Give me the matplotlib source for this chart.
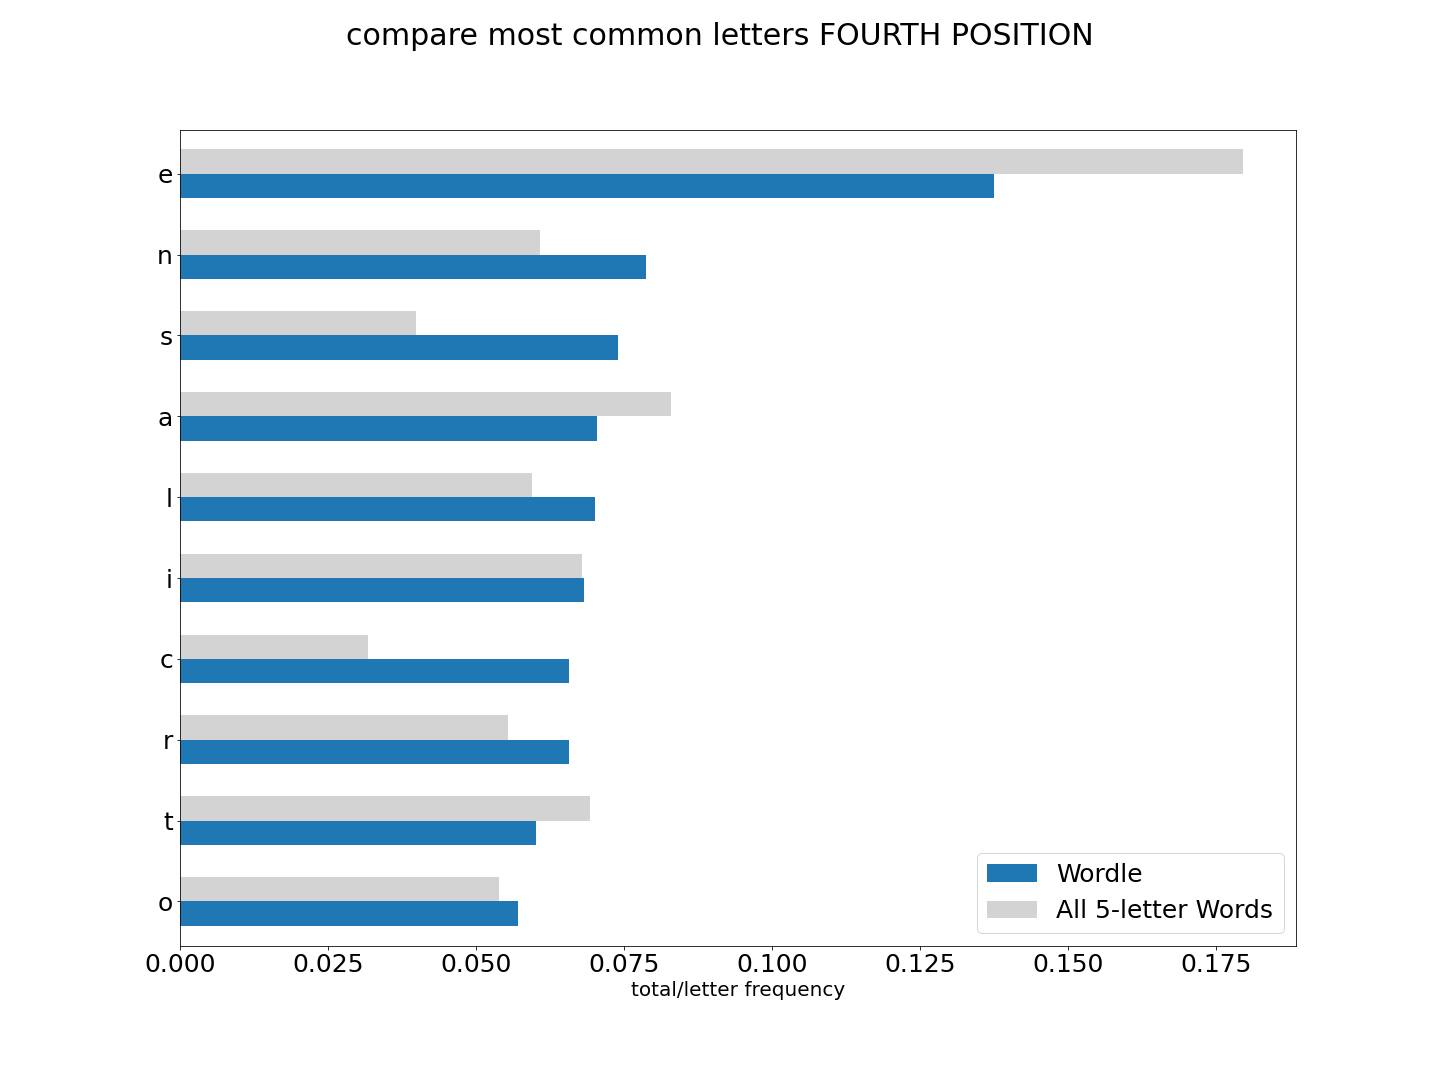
import numpy as np
import matplotlib
matplotlib.use("Agg")
import matplotlib.pyplot as plt

# letters ordered bottom -> top (as pandas barh draws them)
letters = ["o", "t", "r", "c", "i", "l", "a", "s", "n", "e"]
wordle = [0.0571, 0.0601, 0.0657, 0.0657, 0.0682, 0.0701, 0.0704, 0.0740, 0.0787, 0.1375]
all_words = [0.0539, 0.0693, 0.0554, 0.0318, 0.0679, 0.0595, 0.0829, 0.0399, 0.0608, 0.1796]

fig, ax = plt.subplots(figsize=(20, 15), dpi=72)
fig.subplots_adjust(left=0.125, right=0.9, top=0.88, bottom=0.1245)

y = np.arange(len(letters))
h = 0.3
ax.barh(y - h / 2, wordle, height=h, color="#1f77b4", label="Wordle")
ax.barh(y + h / 2, all_words, height=h, color="lightgray", label="All 5-letter Words")

ax.set_yticks(y)
ax.set_yticklabels(letters)
ax.set_ylim(-0.545, len(letters) - 1 + 0.545)
ax.tick_params(axis="both", labelsize=25)
ax.set_xlabel("total/letter frequency", fontsize=20)
ax.legend(loc="lower right", fontsize=25)

fig.suptitle("compare most common letters FOURTH POSITION", fontsize=30)

fig.savefig("out.png", dpi=72)
